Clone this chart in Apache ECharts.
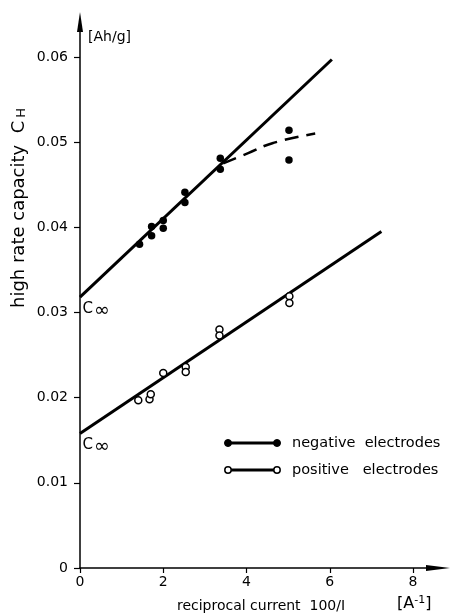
<!DOCTYPE html>
<html>
<head>
<meta charset="utf-8">
<script src="https://cdn.jsdelivr.net/npm/echarts@6/dist/echarts.min.js"></script>
<style>html,body{margin:0;padding:0;background:#fff}#c{width:451px;height:614px}</style>
</head>
<body>
<div id="c"></div>
<script>
// negative electrodes (filled)
var negX = [1.43, 1.72, 1.72, 2.0, 2.0, 2.52, 2.52, 3.37, 3.37, 5.02, 5.02];
var negY = [0.0380, 0.0401, 0.0390, 0.0408, 0.0399, 0.0441, 0.0429, 0.0481, 0.0468, 0.0514, 0.0479];
// positive electrodes (open)
var posX = [1.40, 1.67, 1.70, 2.0, 2.54, 2.54, 3.35, 3.35, 5.03, 5.03];
var posY = [0.0197, 0.0198, 0.0204, 0.0229, 0.0236, 0.0230, 0.0280, 0.0273, 0.0319, 0.0311];
// fitted lines
var negLineX = [0, 6.05];
var negLineY = [0.0318, 0.0597];
var negDashX = [3.44, 4.04, 4.64, 5.65];
var negDashY = [0.0475, 0.0487, 0.0499, 0.0510];
var posLineX = [0, 7.24];
var posLineY = [0.0158, 0.0395];
// intercepts (C infinity)
var cInfX = [0, 0];
var cInfY = [0.0318, 0.0158];
var xTicks = [0, 2, 4, 6, 8];
var yTicks = [0, 0.01, 0.02, 0.03, 0.04, 0.05, 0.06];

function zip(a, b) { return a.map(function (v, i) { return [v, b[i]]; }); }
var FONT = 'DejaVu Sans';

var chart = echarts.init(document.getElementById('c'), null, {renderer: 'canvas'});
chart.setOption({
  backgroundColor: '#fff',
  animation: false,
  textStyle: {fontFamily: FONT, color: '#000'},
  grid: {left: 80, right: 13, top: 22, bottom: 46},
  xAxis: {
    type: 'value', min: 0, max: 8.6,
    axisLine: {lineStyle: {color: '#000', width: 1.5}, symbol: ['none', 'triangle'], symbolSize: [6, 24]},
    axisTick: {show: true, length: 5, lineStyle: {color: '#000', width: 1.2}, customValues: xTicks},
    axisLabel: {color: '#000', fontSize: 14, fontFamily: FONT, margin: 7, customValues: xTicks,
      formatter: function (v) { return String(v); }},
    splitLine: {show: false}
  },
  yAxis: {
    type: 'value', min: 0, max: 0.0641,
    axisLine: {lineStyle: {color: '#000', width: 1.5}, symbol: ['none', 'triangle'], symbolSize: [6, 20]},
    axisTick: {show: true, length: 6, lineStyle: {color: '#000', width: 1.2}, customValues: yTicks},
    axisLabel: {color: '#000', fontSize: 14, fontFamily: FONT, margin: 12, customValues: yTicks,
      formatter: function (v) { return v === 0 ? '0' : v.toFixed(2); }},
    splitLine: {show: false}
  },
  series: [
    {type: 'line', data: zip(negLineX, negLineY), showSymbol: false, lineStyle: {color: '#000', width: 3}, z: 2},
    {type: 'line', data: zip(negDashX, negDashY), smooth: true, showSymbol: false,
      lineStyle: {color: '#000', width: 2.5, type: [14, 8]}, z: 2},
    {type: 'line', data: zip(posLineX, posLineY), showSymbol: false, lineStyle: {color: '#000', width: 3}, z: 2},
    {type: 'scatter', name: 'negative electrodes', data: zip(negX, negY), symbol: 'circle', symbolSize: 7.5,
      itemStyle: {color: '#000', opacity: 1}, z: 3},
    {type: 'scatter', name: 'positive electrodes', data: zip(posX, posY), symbol: 'circle', symbolSize: 7,
      itemStyle: {color: '#fff', borderColor: '#000', borderWidth: 1.5, opacity: 1}, z: 3},
    {type: 'scatter', data: zip(cInfX, cInfY), symbolSize: 1, itemStyle: {color: 'rgba(0,0,0,0)', opacity: 1}, z: 4,
      label: {show: true, position: 'right', distance: 2, offset: [0, 12], opacity: 1,
        formatter: '{c|C}{i|∞}',
        rich: {c: {fontSize: 15, fontFamily: FONT, color: '#000'},
               i: {fontSize: 19, fontFamily: FONT, color: '#000', padding: [4, 0, 0, 1]}}}}
  ],
  graphic: [
    {type: 'text', x: 19, y: 208, rotation: Math.PI / 2,
      style: {text: 'high rate capacity  C{s|H}', font: '18px "DejaVu Sans"', fill: '#000',
        align: 'center', verticalAlign: 'middle',
        rich: {s: {fontSize: 13, fontFamily: FONT, fill: '#000', padding: [5, 0, 0, 3]}}}},
    {type: 'text', x: 88, y: 37,
      style: {text: '[Ah/g]', font: '14px "DejaVu Sans"', fill: '#000', align: 'left', verticalAlign: 'middle'}},
    {type: 'text', x: 261, y: 606,
      style: {text: 'reciprocal current  100/I', font: '14px "DejaVu Sans"', fill: '#000', align: 'center', verticalAlign: 'middle'}},
    {type: 'text', x: 397, y: 604,
      style: {text: '[A{u|-1}]', font: '16px "DejaVu Sans"', fill: '#000', align: 'left', verticalAlign: 'middle',
        rich: {u: {fontSize: 11, fontFamily: FONT, fill: '#000', padding: [0, 0, 8, 0]}}}},
    // legend
    {type: 'line', shape: {x1: 228, y1: 443, x2: 277, y2: 443}, style: {stroke: '#000', lineWidth: 3}},
    {type: 'circle', shape: {cx: 228, cy: 443, r: 3.5}, style: {fill: '#000', stroke: '#000', lineWidth: 1}},
    {type: 'circle', shape: {cx: 277, cy: 443, r: 3.5}, style: {fill: '#000', stroke: '#000', lineWidth: 1}},
    {type: 'text', x: 292, y: 443,
      style: {text: 'negative  electrodes', font: '14.5px "DejaVu Sans"', fill: '#000', align: 'left', verticalAlign: 'middle'}},
    {type: 'line', shape: {x1: 231, y1: 470, x2: 274, y2: 470}, style: {stroke: '#000', lineWidth: 3}},
    {type: 'circle', shape: {cx: 228, cy: 470, r: 3.2}, style: {fill: '#fff', stroke: '#000', lineWidth: 1.5}},
    {type: 'circle', shape: {cx: 277, cy: 470, r: 3.2}, style: {fill: '#fff', stroke: '#000', lineWidth: 1.5}},
    {type: 'text', x: 292, y: 470,
      style: {text: 'positive   electrodes', font: '14.5px "DejaVu Sans"', fill: '#000', align: 'left', verticalAlign: 'middle'}}
  ]
});
</script>
</body>
</html>
